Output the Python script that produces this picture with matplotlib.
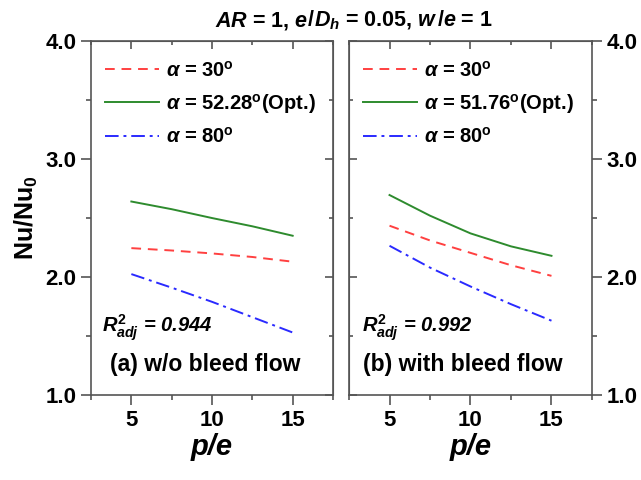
import matplotlib
matplotlib.use("Agg")
import matplotlib.pyplot as plt
from matplotlib.ticker import MultipleLocator

plt.rcParams["font.family"] = "Liberation Sans"
plt.rcParams["font.weight"] = "bold"
plt.rcParams["axes.labelweight"] = "bold"
plt.rcParams["mathtext.fontset"] = "custom"
plt.rcParams["mathtext.rm"] = "Liberation Sans:bold"
plt.rcParams["mathtext.it"] = "Liberation Sans:italic:bold"
plt.rcParams["mathtext.bf"] = "Liberation Sans:bold"

p_e = [5, 7.5, 10, 12.5, 15]

# (a) w/o bleed flow
nu_a_30 = [2.245, 2.225, 2.20, 2.17, 2.13]
nu_a_opt = [2.64, 2.575, 2.50, 2.43, 2.35]
nu_a_80 = [2.025, 1.91, 1.79, 1.66, 1.53]

# (b) with bleed flow
nu_b_30 = [2.435, 2.31, 2.205, 2.10, 2.01]
nu_b_opt = [2.695, 2.52, 2.37, 2.26, 2.18]
nu_b_80 = [2.265, 2.08, 1.92, 1.77, 1.63]

opt_angles = ["52.28", "51.76"]
r2_values = ["0.944", "0.992"]
panel_labels = ["(a) w/o bleed flow", "(b) with bleed flow"]
title_parts = [r"$AR$ = 1, $e$", "/", r"$D_h$ = 0.05, $w$", "/", r"$e$ = 1"]

spine_color = "#555555"
red = "#ff4040"
green = "#2e8b2e"
blue = "#2a2aff"

fig = plt.figure(figsize=(6.41, 4.8), dpi=100)
ax_a = fig.add_axes([0.142, 0.177, 0.3775, 0.7375])
ax_b = fig.add_axes([0.5445, 0.177, 0.379, 0.7375])

panels = [
    (ax_a, nu_a_30, nu_a_opt, nu_a_80),
    (ax_b, nu_b_30, nu_b_opt, nu_b_80),
]

for i, (ax, nu_30, nu_opt, nu_80) in enumerate(panels):
    ax.plot(p_e, nu_30, color=red, lw=1.4, dashes=(5, 3.5),
            label=r"$\alpha$ = 30$^{\mathrm{o}}$")
    ax.plot(p_e, nu_opt, color=green, lw=1.4,
            label=r"$\alpha$ = " + opt_angles[i] + r"$^{\mathrm{o}}$(Opt.)")
    ax.plot(p_e, nu_80, color=blue, lw=1.4, dashes=(7, 2.5, 1.5, 2.5),
            label=r"$\alpha$ = 80$^{\mathrm{o}}$")

    ax.set_xlim(2.5, 17.5)
    ax.set_ylim(1.0, 4.0)
    ax.xaxis.set_major_locator(MultipleLocator(5))
    ax.xaxis.set_minor_locator(MultipleLocator(2.5))
    ax.yaxis.set_major_locator(MultipleLocator(1.0))
    ax.yaxis.set_minor_locator(MultipleLocator(0.5))
    ax.yaxis.set_major_formatter(plt.FormatStrFormatter("%.1f"))

    for s in ax.spines.values():
        s.set_color(spine_color)
        s.set_linewidth(1.2)

    ax.tick_params(which="both", colors=spine_color, labelcolor="black",
                   labelsize=16, width=1.2)
    ax.tick_params(which="major", length=7, direction="out")
    ax.tick_params(which="minor", length=3.5, direction="out")

    # inward ticks on the top and inner side spines
    top = ax.secondary_xaxis("top")
    top.xaxis.set_major_locator(MultipleLocator(5))
    top.xaxis.set_minor_locator(MultipleLocator(2.5))
    top.tick_params(which="both", direction="in", colors=spine_color,
                    labeltop=False, width=1.2)
    top.tick_params(which="major", length=6)
    top.tick_params(which="minor", length=3)
    top.spines["top"].set_color(spine_color)

    side = "right" if i == 0 else "left"
    sec = ax.secondary_yaxis(side)
    sec.yaxis.set_major_locator(MultipleLocator(1.0))
    sec.yaxis.set_minor_locator(MultipleLocator(0.5))
    sec.tick_params(which="both", direction="in", colors=spine_color,
                    labelleft=False, labelright=False, width=1.2)
    sec.tick_params(which="major", length=6)
    sec.tick_params(which="minor", length=3)
    sec.spines[side].set_color(spine_color)

    ax.legend(loc="upper left", bbox_to_anchor=(0.0, 0.985), frameon=False,
              handlelength=2.7, handletextpad=0.3,
              labelspacing=0.56, borderaxespad=0.3,
              prop={"weight": "bold", "size": 14.5})

    ax.text(0.045 if i == 0 else 0.053, 0.19,
            r"$R^2_{adj}$ = " + r2_values[i], transform=ax.transAxes,
            fontsize=14.5, fontstyle="italic", fontweight="bold",
            ha="left", va="center")
    ax.text(0.47, 0.085, panel_labels[i], transform=ax.transAxes,
            fontsize=16.5, fontweight="bold", ha="center", va="center")

    ax.set_xlabel("p/e", fontsize=21, fontstyle="italic", labelpad=2)

ax_b.yaxis.tick_right()
ax_b.tick_params(axis="y", which="major", length=7, direction="out")
ax_b.tick_params(axis="y", which="minor", length=3.5, direction="out")

ax_a.set_ylabel(r"Nu/Nu$_{\mathrm{0}}$", fontsize=18, labelpad=4)

# title from pieces, slashes as plain text
title_y = 0.945
title_texts = []
for part in title_parts:
    title_texts.append(fig.text(0.335, title_y, part, fontsize=15.5,
                                fontweight="bold", ha="left", va="baseline"))

fig.canvas.draw()
renderer = fig.canvas.get_renderer()
fig_w = fig.bbox.width
x_cur = title_texts[0].get_window_extent(renderer).x1
for t in title_texts[1:]:
    t.set_x(x_cur / fig_w)
    x_cur = t.get_window_extent(renderer).x1

fig.savefig("out.png", dpi=100)
